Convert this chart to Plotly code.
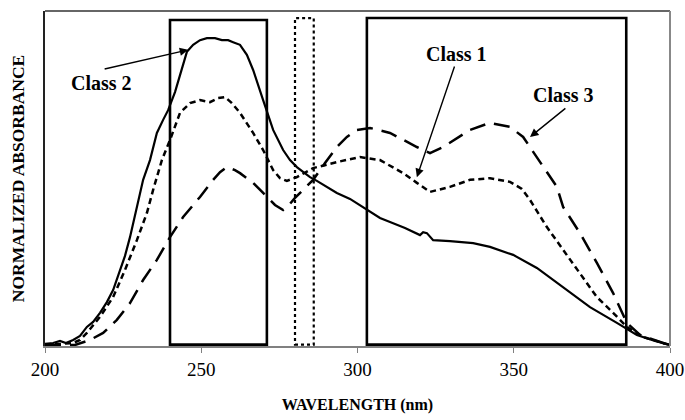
import plotly.graph_objects as go

# ---- data (wavelength in nm, normalized absorbance) ----
class2_wl = [200.0, 202.6, 204.8, 206.7, 209.0, 211.2, 213.4, 215.4, 217.6, 219.8, 221.8, 224.0,
             225.6, 227.2, 229.4, 231.4, 233.6, 235.8, 237.8, 239.4, 241.6, 243.5, 245.4, 247.4,
             249.6, 251.8, 254.4, 256.6, 258.6, 260.2, 262.4, 264.6, 266.6, 269.8, 273.0, 276.2,
             278.4, 280.6, 282.6, 284.8, 287.0, 289.6, 293.4, 297.6, 303.0, 307.2, 310.4, 315.2,
             320.0, 321.0, 322.2, 324.2, 329.6, 337.0, 342.4, 349.8, 357.4, 365.8, 374.4, 383.0,
             389.4, 395.2, 400.0]
class2_abs = [0.006, 0.009, 0.015, 0.009, 0.018, 0.030, 0.057, 0.072, 0.099, 0.131, 0.167, 0.227,
              0.269, 0.325, 0.415, 0.496, 0.555, 0.636, 0.675, 0.704, 0.758, 0.818, 0.878, 0.899,
              0.913, 0.919, 0.919, 0.913, 0.913, 0.907, 0.899, 0.869, 0.824, 0.734, 0.645, 0.585,
              0.555, 0.534, 0.519, 0.504, 0.493, 0.478, 0.457, 0.439, 0.406, 0.382, 0.370, 0.352,
              0.331, 0.340, 0.337, 0.316, 0.313, 0.307, 0.296, 0.272, 0.233, 0.176, 0.116, 0.069,
              0.033, 0.015, 0.003]

class1_wl = [200.0, 204.8, 209.0, 211.2, 213.4, 217.6, 221.8, 225.6, 229.4, 232.6, 234.6, 237.4,
             240.0, 243.2, 246.4, 249.6, 252.8, 255.4, 257.6, 259.8, 262.4, 266.6, 269.8, 273.0,
             275.2, 277.4, 280.6, 285.8, 293.4, 300.8, 307.2, 314.6, 319.0, 323.2, 329.6, 336.0,
             342.4, 348.8, 352.6, 355.2, 360.6, 365.8, 371.2, 376.6, 381.8, 386.2, 391.4, 397.8,
             400.0]
class1_abs = [0.006, 0.006, 0.009, 0.018, 0.039, 0.087, 0.146, 0.227, 0.316, 0.397, 0.466, 0.555,
              0.615, 0.696, 0.725, 0.734, 0.728, 0.740, 0.743, 0.725, 0.696, 0.636, 0.585, 0.525,
              0.501, 0.493, 0.504, 0.531, 0.549, 0.564, 0.555, 0.516, 0.487, 0.460, 0.475, 0.496,
              0.501, 0.490, 0.469, 0.436, 0.355, 0.287, 0.218, 0.146, 0.099, 0.057, 0.027, 0.009,
              0.003]

class3_wl = [200.0, 209.6, 214.4, 218.6, 223.0, 227.2, 231.4, 235.8, 240.0, 244.2, 249.6, 253.8,
             256.0, 258.2, 260.8, 262.4, 266.6, 271.0, 273.6, 276.2, 277.8, 280.0, 282.6, 285.8,
             289.6, 293.4, 296.6, 299.8, 304.0, 310.4, 319.0, 323.2, 327.4, 336.0, 342.4, 348.8,
             353.0, 357.4, 363.8, 365.8, 371.2, 376.6, 381.8, 386.2, 390.4, 397.8, 400.0]
class3_abs = [0.003, 0.003, 0.018, 0.039, 0.078, 0.128, 0.197, 0.257, 0.325, 0.385, 0.445, 0.496,
              0.519, 0.534, 0.525, 0.516, 0.487, 0.445, 0.421, 0.406, 0.418, 0.442, 0.466, 0.496,
              0.546, 0.594, 0.624, 0.645, 0.651, 0.636, 0.594, 0.576, 0.594, 0.645, 0.666, 0.654,
              0.624, 0.564, 0.475, 0.415, 0.337, 0.248, 0.158, 0.069, 0.033, 0.009, 0.000]

# wavelength windows (x0, x1, top)
window_a = [240.0, 271.0, 0.973]
window_b = [280.0, 286.0, 0.979]
window_c = [303.0, 386.0, 0.979]

x_ticks = [200, 250, 300, 350, 400]

FONT = "Liberation Serif"

fig = go.Figure()
fig.add_trace(go.Scatter(x=class2_wl, y=class2_abs, mode="lines", name="Class 2",
                         line=dict(color="black", width=2.2)))
fig.add_trace(go.Scatter(x=class1_wl, y=class1_abs, mode="lines", name="Class 1",
                         line=dict(color="black", width=2.5, dash="6px,4px")))
fig.add_trace(go.Scatter(x=class3_wl, y=class3_abs, mode="lines", name="Class 3",
                         line=dict(color="black", width=2.5, dash="16px,9px")))

for win, dash, w in [(window_a, "solid", 2.6), (window_b, "dot", 2.2), (window_c, "solid", 2.6)]:
    fig.add_shape(type="rect", xref="x", yref="y", x0=win[0], x1=win[1], y0=0.004, y1=win[2],
                  line=dict(color="black", width=w, dash=dash), fillcolor="rgba(0,0,0,0)")

# frame: top and right edges
fig.add_shape(type="line", xref="paper", yref="paper", x0=0, x1=1, y0=1, y1=1,
              line=dict(color="#333333", width=1.3))
fig.add_shape(type="line", xref="paper", yref="paper", x0=1, x1=1, y0=0, y1=1,
              line=dict(color="#888888", width=2))

# labels with arrows
labels = [
    ("Class 2", 218.2, 0.785, 218.6, 0.826, 245.8, 0.884),
    ("Class 1", 331.8, 0.872, 331.2, 0.839, 319.0, 0.504),
    ("Class 3", 365.8, 0.749, 367.0, 0.713, 355.2, 0.624),
]
for txt, tx, ty, axx, ayy, hx, hy in labels:
    fig.add_annotation(x=tx, y=ty, xref="x", yref="y", text="<b>%s</b>" % txt, showarrow=False,
                       font=dict(family=FONT, size=20, color="black"))
    fig.add_annotation(x=hx, y=hy, xref="x", yref="y", ax=axx, ay=ayy, axref="x", ayref="y",
                       text="", showarrow=True, arrowhead=2, arrowsize=1.2, arrowwidth=1.4,
                       arrowcolor="black")

fig.update_layout(
    width=685, height=420,
    margin=dict(l=45, r=15, t=11, b=74, autoexpand=False),
    paper_bgcolor="white", plot_bgcolor="white",
    showlegend=False,
    font=dict(family=FONT, color="black"),
)
fig.update_xaxes(range=[200, 400], tickvals=x_ticks, ticktext=[str(v) for v in x_ticks],
                 ticks="outside", ticklen=5, tickcolor="#808080", tickwidth=1,
                 showline=True, linecolor="#808080", linewidth=1.5, showgrid=False, zeroline=False,
                 tickfont=dict(family=FONT, size=19, color="black"), automargin=False,
                 title=dict(text="<b>WAVELENGTH (nm)</b>", standoff=20,
                            font=dict(family=FONT, size=16, color="black")))
fig.update_yaxes(range=[0, 1], showticklabels=False, ticks="", showgrid=False, zeroline=False,
                 showline=True, linecolor="#222222", linewidth=2, automargin=False,
                 title=dict(text="<b>NORMALIZED ABSORBANCE</b>", standoff=14,
                            font=dict(family=FONT, size=17.5, color="black")))

fig.write_html("out.html", config={"displayModeBar": False},
               post_script="document.body.style.margin='0';document.body.style.padding='0';")
